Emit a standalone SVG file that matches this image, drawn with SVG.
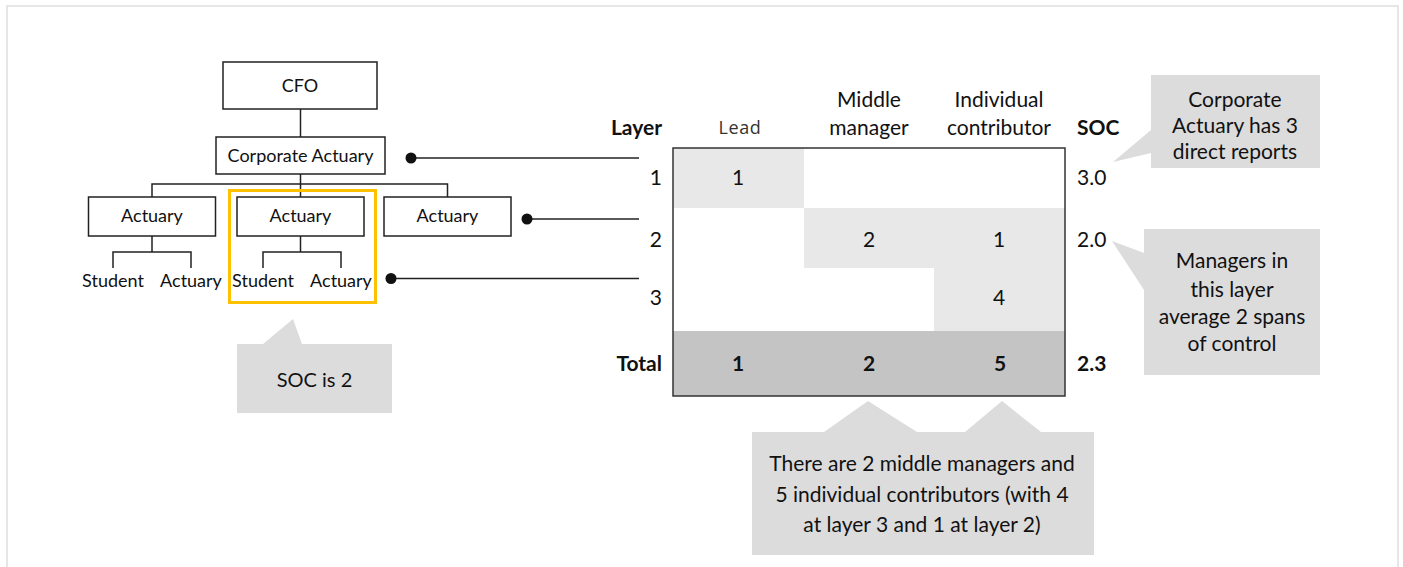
<svg xmlns="http://www.w3.org/2000/svg" width="1403" height="567" viewBox="0 0 1403 567">
<style>
text{font-family:Lato,"Liberation Sans",sans-serif;font-size:18px;fill:#111;}
.t{font-size:21px;}
.c{text-anchor:middle;}
.r{text-anchor:end;}
.b{font-weight:bold;}
.box{fill:#fff;stroke:#222;stroke-width:1.5;}
.ln{fill:none;stroke:#222;stroke-width:1.5;}
.call{fill:#dcdcdc;}
.lead{font-family:"Open Sans","Noto Sans",sans-serif;font-size:18px;fill:#333;letter-spacing:0.6px;}
</style>
<defs>
<marker id="dot" markerWidth="12" markerHeight="12" refX="6" refY="6" markerUnits="userSpaceOnUse"><circle cx="6" cy="6" r="5.5" fill="#111"/></marker>
</defs>
<rect x="7" y="6" width="1391" height="580" fill="#fff" stroke="#e6e6e6" stroke-width="2"/>

<g id="tree-lines">
<path class="ln" d="M300.5 109V137M300.5 174V197M152 197V184H447.5V197M152 236V252H113V268M152 252H191V268M300.5 236V252H263V268M300.5 252H341V268"/>
</g>
<g id="cfo"><rect class="box" x="223" y="62" width="154" height="47"/><text class="c" x="300" y="91.5">CFO</text></g>
<g id="corporate-actuary"><rect class="box" x="216" y="137" width="169" height="37"/><text class="c" x="300.5" y="161.5">Corporate Actuary</text></g>
<g id="actuary-1"><rect class="box" x="88.5" y="197" width="127" height="39"/><text class="c" x="152" y="222">Actuary</text></g>
<g id="actuary-2"><rect class="box" x="237" y="197" width="127" height="39"/><text class="c" x="300.5" y="222">Actuary</text></g>
<g id="actuary-3"><rect class="box" x="384" y="197" width="127" height="39"/><text class="c" x="447.5" y="222">Actuary</text></g>
<g id="student-1"><text class="c" x="113" y="287">Student</text></g>
<g id="actuary-1a"><text class="c" x="191" y="287">Actuary</text></g>
<g id="student-2"><text class="c" x="263" y="287">Student</text></g>
<g id="actuary-2a"><text class="c" x="341" y="287">Actuary</text></g>
<g id="highlight"><rect x="229.5" y="190.5" width="146" height="112" fill="none" stroke="#FFC000" stroke-width="3"/></g>

<g id="callout-soc">
<path class="call" d="M237 344H263L293 319L302 344H392V413H237Z"/>
<text class="c" x="314.5" y="387" style="font-size:20px">SOC is 2</text>
</g>

<g id="connectors">
<path class="ln" d="M411 158H639" marker-start="url(#dot)"/>
<path class="ln" d="M527 219H639" marker-start="url(#dot)"/>
<path class="ln" d="M391 278.5H639" marker-start="url(#dot)"/>
</g>

<g id="table">
<rect x="673" y="148" width="131" height="60" fill="#e8e8e8"/>
<rect x="804" y="208" width="261" height="60" fill="#e8e8e8"/>
<rect x="934" y="268" width="131" height="63" fill="#e8e8e8"/>
<rect x="673" y="331" width="392" height="65" fill="#c4c4c4"/>
<rect x="673" y="148" width="392" height="248" fill="none" stroke="#333" stroke-width="1.5"/>
<text class="t r b" x="662" y="135">Layer</text>
<text class="c lead" x="740" y="134">Lead</text>
<text class="t c" x="869" y="107">Middle</text>
<text class="t c" x="869" y="135">manager</text>
<text class="t c" x="999" y="107">Individual</text>
<text class="t c" x="999" y="135">contributor</text>
<text class="t b" x="1077" y="135">SOC</text>
<text class="t r" x="662" y="185">1</text>
<text class="t r" x="662" y="247">2</text>
<text class="t r" x="662" y="305">3</text>
<text class="t r b" x="662" y="371">Total</text>
<text class="t c" x="738" y="185">1</text>
<text class="t c" x="869" y="247">2</text>
<text class="t c" x="999" y="247">1</text>
<text class="t c" x="999" y="305">4</text>
<text class="t c b" x="738" y="371">1</text>
<text class="t c b" x="869" y="371">2</text>
<text class="t c b" x="1000" y="371">5</text>
<text class="t" x="1077" y="185">3.0</text>
<text class="t" x="1077" y="247">2.0</text>
<text class="t b" x="1077" y="371">2.3</text>
</g>

<g id="callout-corporate">
<path class="call" d="M1151 75H1320V168H1151V153L1113 162L1151 130Z"/>
<text class="t c" x="1235" y="107">Corporate</text>
<text class="t c" x="1235" y="133">Actuary has 3</text>
<text class="t c" x="1235" y="159">direct reports</text>
</g>

<g id="callout-managers">
<path class="call" d="M1144 229H1320V375H1144V290L1112 241L1144 253Z"/>
<text class="t c" x="1232" y="268">Managers in</text>
<text class="t c" x="1232" y="297">this layer</text>
<text class="t c" x="1232" y="324">average 2 spans</text>
<text class="t c" x="1232" y="351">of control</text>
</g>

<g id="callout-total">
<path class="call" d="M752 432H824L868 401L917 432H965L1002 401L1041 432H1094V555H752Z"/>
<text class="t c" x="922" y="471">There are 2 middle managers and</text>
<text class="t c" x="922" y="502">5 individual contributors (with 4</text>
<text class="t c" x="922" y="532">at layer 3 and 1 at layer 2)</text>
</g>
</svg>
